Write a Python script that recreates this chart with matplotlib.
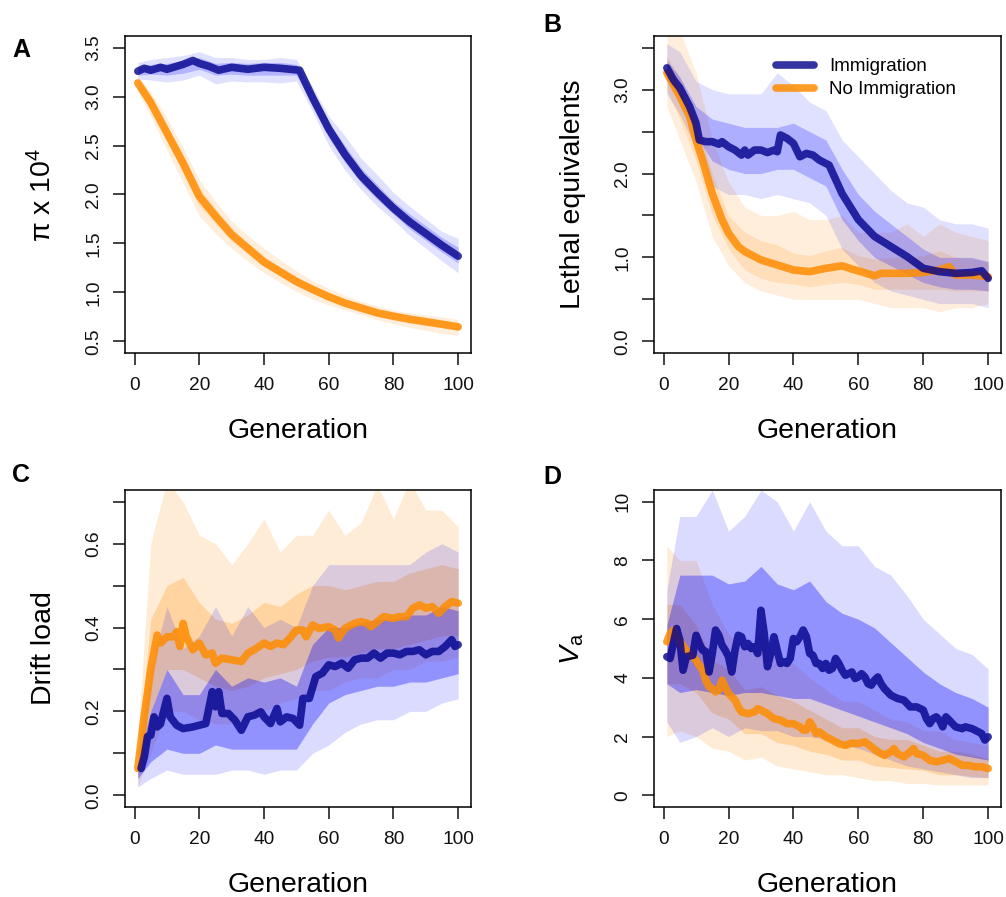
import numpy as np
import matplotlib
matplotlib.use('Agg')
import matplotlib.pyplot as plt

plt.rcParams.update({
    'font.family': ['Liberation Sans', 'DejaVu Sans'],
    'mathtext.fontset': 'custom',
    'mathtext.rm': 'Liberation Sans',
    'mathtext.it': 'Liberation Sans:italic',
    'mathtext.bf': 'Liberation Sans:bold',
})

BLUE_MEAN = '#00008b'
ORANGE_MEAN = '#ff8c00'
BLUE_THIN = '#0000ff'
ORANGE_THIN = '#ff9a20'

# generations at which the replicate spread (envelopes) was read
band_gen = [1, 5, 10, 15, 20, 25, 30, 35, 40, 45, 50, 55, 60, 65, 70, 75, 80, 85, 90, 95, 100]

# ---------------- A: pi x 10^4 ----------------
a_blue_gen = [1, 3, 5, 8, 10, 13, 15, 18, 20, 23, 26, 30, 35, 40, 45, 51, 55, 60, 65, 70, 75, 80, 85, 90, 95, 100]
a_blue = [3.26, 3.29, 3.27, 3.30, 3.28, 3.31, 3.33, 3.37, 3.34, 3.31, 3.27, 3.30, 3.28, 3.30, 3.29, 3.27,
          2.99, 2.67, 2.41, 2.19, 2.02, 1.86, 1.72, 1.60, 1.48, 1.37]
a_orange_gen = band_gen
a_orange = [3.14, 2.94, 2.63, 2.32, 1.98, 1.78, 1.59, 1.45, 1.31, 1.21, 1.11, 1.03, 0.955, 0.89, 0.84,
            0.79, 0.756, 0.725, 0.70, 0.674, 0.647]
a_blue_lo = [3.18, 3.17, 3.15, 3.17, 3.22, 3.13, 3.16, 3.15, 3.15, 3.14, 3.16, 2.85, 2.50, 2.25, 2.05,
             1.88, 1.74, 1.58, 1.45, 1.32, 1.20]
a_blue_hi = [3.35, 3.38, 3.40, 3.42, 3.46, 3.40, 3.40, 3.38, 3.38, 3.40, 3.38, 3.10, 2.80, 2.60, 2.37,
             2.20, 2.02, 1.88, 1.75, 1.62, 1.55]
a_blue_lo2 = [3.22, 3.23, 3.22, 3.24, 3.28, 3.22, 3.23, 3.22, 3.22, 3.22, 3.22, 2.92, 2.58, 2.33, 2.12,
              1.95, 1.80, 1.65, 1.53, 1.41, 1.30]
a_blue_hi2 = [3.31, 3.33, 3.34, 3.37, 3.40, 3.34, 3.35, 3.34, 3.35, 3.35, 3.33, 3.05, 2.74, 2.50, 2.27,
              2.10, 1.93, 1.80, 1.68, 1.56, 1.46]
a_orange_lo = [3.05, 2.80, 2.45, 2.12, 1.78, 1.60, 1.45, 1.32, 1.20, 1.10, 1.01, 0.93, 0.87, 0.82, 0.77,
               0.72, 0.68, 0.64, 0.61, 0.58, 0.56]
a_orange_hi = [3.20, 3.05, 2.78, 2.48, 2.15, 1.93, 1.73, 1.58, 1.45, 1.33, 1.22, 1.12, 1.04, 0.97, 0.91,
               0.86, 0.82, 0.79, 0.77, 0.75, 0.72]
a_orange_lo2 = [3.10, 2.88, 2.55, 2.22, 1.88, 1.70, 1.52, 1.39, 1.26, 1.16, 1.07, 0.99, 0.92, 0.86, 0.81,
                0.76, 0.72, 0.69, 0.66, 0.64, 0.61]
a_orange_hi2 = [3.17, 2.99, 2.70, 2.40, 2.07, 1.86, 1.66, 1.51, 1.37, 1.26, 1.16, 1.07, 0.99, 0.93, 0.87,
                0.82, 0.79, 0.76, 0.73, 0.71, 0.68]

# ---------------- B: lethal equivalents ----------------
b_blue_gen = [1, 3, 5, 8, 10, 11, 13, 15, 17, 18, 20, 22, 24, 25, 26, 28, 30, 32, 34, 35, 36, 38, 40, 42,
              44, 46, 48, 51, 55, 60, 65, 70, 75, 80, 85, 90, 95, 98, 100]
b_blue = [3.26, 3.12, 3.02, 2.80, 2.60, 2.40, 2.38, 2.38, 2.35, 2.38, 2.32, 2.28, 2.22, 2.28, 2.22, 2.28,
          2.28, 2.25, 2.28, 2.26, 2.46, 2.42, 2.36, 2.20, 2.24, 2.22, 2.16, 2.10, 1.76, 1.45, 1.25, 1.13,
          1.01, 0.87, 0.83, 0.81, 0.82, 0.84, 0.75]
b_orange_gen = [1, 5, 8, 10, 12, 15, 18, 20, 23, 25, 30, 35, 40, 45, 50, 55, 58, 60, 65, 67, 70, 75, 80,
                85, 88, 90, 95, 100]
b_orange = [3.20, 2.92, 2.68, 2.40, 2.16, 1.76, 1.45, 1.29, 1.13, 1.07, 0.97, 0.91, 0.85, 0.83, 0.87,
            0.90, 0.86, 0.84, 0.78, 0.81, 0.81, 0.81, 0.82, 0.85, 0.89, 0.79, 0.79, 0.77]
b_blue_lo = [2.95, 2.70, 2.30, 1.85, 1.75, 1.75, 1.70, 1.75, 1.70, 1.65, 1.50, 1.10, 0.90, 0.70, 0.60,
             0.55, 0.50, 0.45, 0.45, 0.45, 0.40]
b_blue_hi = [3.55, 3.45, 3.10, 3.00, 2.95, 2.95, 2.95, 3.20, 3.05, 2.85, 2.75, 2.40, 2.20, 2.00, 1.80,
             1.65, 1.60, 1.45, 1.40, 1.40, 1.35]
b_blue_lo2 = [3.15, 2.90, 2.45, 2.15, 2.05, 2.00, 2.00, 2.05, 2.05, 1.95, 1.85, 1.45, 1.20, 1.00, 0.90,
              0.80, 0.70, 0.65, 0.62, 0.62, 0.60]
b_blue_hi2 = [3.35, 3.15, 2.80, 2.65, 2.60, 2.55, 2.55, 2.55, 2.60, 2.50, 2.40, 2.05, 1.75, 1.55, 1.40,
              1.25, 1.10, 1.00, 1.00, 1.00, 0.95]
b_orange_lo = [2.80, 2.40, 1.90, 1.25, 0.90, 0.70, 0.60, 0.55, 0.50, 0.50, 0.50, 0.50, 0.50, 0.45, 0.40,
               0.40, 0.40, 0.35, 0.40, 0.40, 0.45]
b_orange_hi = [3.70, 3.70, 3.20, 2.40, 1.90, 1.60, 1.50, 1.50, 1.55, 1.45, 1.45, 1.50, 1.30, 1.30, 1.30,
               1.40, 1.25, 1.40, 1.30, 1.25, 1.20]
b_orange_lo2 = [3.00, 2.65, 2.15, 1.50, 1.10, 0.85, 0.75, 0.70, 0.68, 0.65, 0.68, 0.70, 0.68, 0.62, 0.62,
                0.62, 0.62, 0.62, 0.60, 0.60, 0.60]
b_orange_hi2 = [3.40, 3.15, 2.65, 2.00, 1.50, 1.30, 1.20, 1.15, 1.05, 1.02, 1.08, 1.12, 1.02, 0.98, 1.00,
                1.00, 1.02, 1.08, 1.00, 0.98, 0.95]

# ---------------- C: drift load ----------------
c_blue_gen = [2, 3, 4, 5, 6, 7, 8, 10, 11, 13, 15, 18, 20, 22, 24, 25, 26, 27, 29, 31, 33, 35, 37, 39, 40,
              42, 44, 45, 47, 49, 51, 52, 54, 56, 58, 60, 62, 64, 66, 68, 70, 72, 74, 76, 78, 80, 82, 84,
              86, 88, 90, 92, 94, 96, 98, 99, 100]
c_blue = [0.064, 0.092, 0.140, 0.143, 0.187, 0.163, 0.170, 0.231, 0.187, 0.167, 0.159, 0.163, 0.167, 0.171,
          0.247, 0.211, 0.247, 0.195, 0.195, 0.179, 0.155, 0.187, 0.191, 0.199, 0.187, 0.171, 0.207, 0.175,
          0.187, 0.183, 0.167, 0.231, 0.231, 0.283, 0.291, 0.311, 0.307, 0.315, 0.303, 0.323, 0.327, 0.327,
          0.339, 0.327, 0.339, 0.339, 0.335, 0.343, 0.343, 0.347, 0.335, 0.343, 0.343, 0.355, 0.371, 0.355,
          0.359]
c_orange_gen = [1, 3, 5, 7, 8, 10, 12, 13, 14, 15, 16, 18, 20, 22, 24, 25, 27, 30, 33, 35, 37, 40, 42, 44,
                46, 48, 50, 52, 53, 55, 57, 60, 62, 63, 65, 68, 70, 72, 73, 75, 77, 80, 82, 84, 86, 88, 90,
                92, 94, 96, 98, 100]
c_orange = [0.064, 0.19, 0.30, 0.382, 0.363, 0.378, 0.378, 0.390, 0.355, 0.410, 0.378, 0.347, 0.363, 0.335,
            0.339, 0.315, 0.327, 0.323, 0.319, 0.339, 0.347, 0.363, 0.355, 0.363, 0.359, 0.375, 0.394, 0.394,
            0.378, 0.406, 0.398, 0.402, 0.394, 0.375, 0.398, 0.410, 0.414, 0.410, 0.402, 0.414, 0.426, 0.422,
            0.426, 0.426, 0.446, 0.454, 0.446, 0.450, 0.434, 0.450, 0.462, 0.458]
c_blue_lo = [0.02, 0.04, 0.06, 0.05, 0.05, 0.05, 0.06, 0.06, 0.05, 0.06, 0.06, 0.10, 0.12, 0.15, 0.17,
             0.18, 0.18, 0.20, 0.20, 0.22, 0.23]
c_blue_hi = [0.10, 0.30, 0.45, 0.35, 0.38, 0.45, 0.38, 0.45, 0.40, 0.42, 0.40, 0.50, 0.55, 0.55, 0.55,
             0.55, 0.55, 0.55, 0.58, 0.60, 0.58]
c_blue_lo2 = [0.04, 0.08, 0.11, 0.10, 0.10, 0.12, 0.11, 0.11, 0.11, 0.11, 0.11, 0.17, 0.22, 0.24, 0.25,
              0.26, 0.26, 0.27, 0.27, 0.28, 0.29]
c_blue_hi2 = [0.08, 0.20, 0.30, 0.24, 0.24, 0.30, 0.26, 0.28, 0.27, 0.28, 0.26, 0.36, 0.40, 0.40, 0.41,
              0.42, 0.42, 0.43, 0.43, 0.45, 0.44]
c_orange_lo = [0.02, 0.10, 0.20, 0.20, 0.18, 0.17, 0.17, 0.18, 0.20, 0.22, 0.23, 0.25, 0.25, 0.27, 0.28,
               0.28, 0.30, 0.30, 0.32, 0.32, 0.33]
c_orange_hi = [0.14, 0.60, 0.75, 0.70, 0.62, 0.60, 0.55, 0.60, 0.66, 0.58, 0.62, 0.62, 0.68, 0.62, 0.65,
               0.74, 0.66, 0.75, 0.68, 0.68, 0.64]
c_orange_lo2 = [0.04, 0.20, 0.30, 0.30, 0.28, 0.26, 0.25, 0.26, 0.28, 0.29, 0.30, 0.32, 0.33, 0.33, 0.34,
                0.35, 0.35, 0.36, 0.37, 0.38, 0.38]
c_orange_hi2 = [0.10, 0.42, 0.50, 0.52, 0.46, 0.42, 0.41, 0.43, 0.46, 0.45, 0.48, 0.50, 0.50, 0.49, 0.50,
                0.51, 0.51, 0.53, 0.54, 0.55, 0.54]

# ---------------- D: Va ----------------
d_blue_gen = [1, 2, 3, 4, 5, 6, 7, 9, 10, 11, 12, 13, 14, 15, 16, 17, 18, 19, 20, 21, 22, 23, 24, 25, 26,
              27, 28, 29, 30, 31, 32, 33, 34, 35, 36, 37, 38, 39, 40, 41, 42, 43, 44, 45, 46, 47, 48, 49,
              50, 51, 52, 53, 54, 55, 56, 57, 58, 59, 60, 61, 62, 63, 64, 65, 66, 67, 68, 70, 72, 74, 75,
              76, 78, 80, 81, 82, 83, 84, 85, 86, 87, 88, 89, 90, 92, 93, 95, 97, 98, 99, 100]
d_blue = [4.72, 4.66, 5.17, 5.68, 5.28, 4.26, 4.72, 4.77, 5.45, 5.17, 4.94, 4.90, 4.20, 4.83, 5.63, 5.45,
          5.11, 4.94, 4.72, 4.20, 4.94, 5.45, 5.40, 5.06, 5.17, 5.00, 5.06, 4.83, 6.30, 5.51, 4.38, 4.83,
          5.40, 4.94, 4.49, 4.55, 4.49, 4.66, 5.34, 5.23, 5.40, 5.63, 5.40, 4.83, 4.77, 4.49, 4.49, 4.32,
          4.49, 4.26, 4.32, 4.66, 4.49, 4.26, 4.09, 4.14, 4.20, 3.98, 4.03, 4.14, 4.03, 3.80, 3.75, 3.92,
          4.03, 3.80, 3.64, 3.41, 3.30, 3.24, 3.13, 3.01, 3.01, 2.90, 2.61, 2.44, 2.61, 2.67, 2.56, 2.33,
          2.67, 2.56, 2.44, 2.33, 2.27, 2.33, 2.27, 2.16, 2.10, 1.88, 1.99]
d_orange_gen = [1, 2, 3, 5, 7, 10, 12, 13, 14, 15, 16, 17, 18, 19, 20, 22, 23, 24, 26, 28, 29, 30, 32, 34,
                36, 38, 40, 42, 43, 44, 45, 46, 47, 48, 50, 52, 54, 56, 58, 60, 62, 64, 66, 68, 70, 71, 72,
                74, 76, 77, 78, 80, 82, 84, 86, 88, 90, 92, 94, 96, 98, 100]
d_orange = [5.23, 5.51, 5.63, 5.23, 4.94, 4.60, 4.26, 3.92, 3.69, 3.64, 3.52, 3.58, 3.92, 3.69, 3.47, 3.24,
            3.01, 2.84, 2.78, 2.84, 2.95, 2.90, 2.78, 2.61, 2.56, 2.44, 2.44, 2.33, 2.22, 2.22, 2.50, 2.33,
            2.10, 2.16, 1.99, 1.88, 1.76, 1.70, 1.78, 1.76, 1.82, 1.65, 1.48, 1.36, 1.48, 1.59, 1.42, 1.31,
            1.48, 1.59, 1.42, 1.36, 1.19, 1.14, 1.19, 1.25, 1.14, 1.02, 1.02, 0.97, 0.97, 0.91]
d_blue_lo = [2.5, 1.8, 2.0, 2.3, 2.0, 2.3, 2.2, 2.2, 2.0, 2.0, 1.9, 1.7, 1.6, 1.4, 1.2, 1.0, 0.9, 0.8, 0.7,
             0.6, 0.6]
d_blue_hi = [7.0, 9.5, 9.5, 10.4, 9.0, 9.5, 10.4, 10.0, 9.0, 10.0, 9.0, 8.5, 8.5, 7.8, 7.5, 6.8, 6.0, 5.5,
             5.0, 4.8, 4.3]
d_blue_lo2 = [3.8, 3.5, 3.6, 3.5, 3.4, 3.5, 3.5, 3.4, 3.3, 3.3, 3.1, 2.9, 2.7, 2.5, 2.3, 2.1, 1.8, 1.6, 1.4,
              1.3, 1.2]
d_blue_hi2 = [5.8, 7.5, 7.5, 7.5, 7.2, 7.3, 7.8, 7.2, 7.0, 7.3, 6.6, 6.2, 6.0, 5.7, 5.2, 4.7, 4.2, 3.8, 3.5,
              3.3, 3.0]
d_orange_lo = [2.0, 2.2, 2.0, 1.6, 1.5, 1.2, 1.3, 1.0, 0.9, 0.8, 0.7, 0.7, 0.6, 0.5, 0.5, 0.4, 0.4, 0.35,
               0.35, 0.35, 0.35]
d_orange_hi = [8.5, 8.0, 8.0, 6.5, 5.5, 5.0, 5.5, 4.6, 4.5, 4.0, 3.6, 3.2, 3.2, 2.9, 2.6, 2.5, 2.2, 2.2,
               1.9, 1.8, 1.7]
d_orange_lo2 = [3.8, 3.8, 3.5, 2.8, 2.6, 2.1, 2.1, 1.8, 1.7, 1.5, 1.4, 1.2, 1.2, 1.0, 0.95, 0.9, 0.85, 0.7,
                0.7, 0.65, 0.6]
d_orange_hi2 = [6.5, 6.5, 5.8, 4.6, 4.3, 3.6, 3.7, 3.4, 3.2, 2.9, 2.6, 2.3, 2.3, 2.0, 1.9, 1.9, 1.7, 1.5,
                1.5, 1.4, 1.25]

x_ticks = [0, 20, 40, 60, 80, 100]


def style_axes(ax, ylim, yticks, ylabels, ylabel):
    ax.set_xlim(-2.96, 103.96)
    ax.set_ylim(*ylim)
    ax.set_xticks(x_ticks)
    ax.set_xticklabels([str(t) for t in x_ticks])
    ax.set_yticks(yticks)
    ax.set_yticklabels(ylabels, rotation=90, va='center')
    ax.tick_params(direction='out', length=8.4, width=1.1, labelsize=13.8, colors='#111111')
    ax.tick_params(axis='x', pad=9)
    ax.tick_params(axis='y', pad=8)
    for sp in ax.spines.values():
        sp.set_linewidth(1.1)
    ax.set_xlabel('Generation', fontsize=20.5, labelpad=17)
    ax.set_ylabel(ylabel, fontsize=20.5, labelpad=20)


fig = plt.figure(figsize=(10.06, 8.97), dpi=100)
W, H = 1006, 897
pos = {
    'A': [125 / W, 1 - 353 / H, 346 / W, 317 / H],
    'B': [654 / W, 1 - 353 / H, 347 / W, 317 / H],
    'C': [125 / W, 1 - 807 / H, 346 / W, 317 / H],
    'D': [654 / W, 1 - 807 / H, 347 / W, 317 / H],
}
# panel letter centres (pixels from top-left)
letter_xy = {'A': (21, 50), 'B': (552, 25), 'C': (21, 475), 'D': (552, 477)}

panels = {
    'A': dict(bg=a_blue_gen, b=a_blue, og=a_orange_gen, o=a_orange,
              bl=(a_blue_lo, a_blue_hi, a_blue_lo2, a_blue_hi2),
              ol=(a_orange_lo, a_orange_hi, a_orange_lo2, a_orange_hi2),
              ylim=(0.38, 3.62), yt=[0.5, 1.0, 1.5, 2.0, 2.5, 3.0, 3.5],
              yl=['0.5', '1.0', '1.5', '2.0', '2.5', '3.0', '3.5'],
              ylab=r'π x 10$^{4}$', alpha=(0.12, 0.20)),
    'B': dict(bg=b_blue_gen, b=b_blue, og=b_orange_gen, o=b_orange,
              bl=(b_blue_lo, b_blue_hi, b_blue_lo2, b_blue_hi2),
              ol=(b_orange_lo, b_orange_hi, b_orange_lo2, b_orange_hi2),
              ylim=(-0.14, 3.64), yt=[0, 0.5, 1.0, 1.5, 2.0, 2.5, 3.0, 3.5],
              yl=['0.0', '', '1.0', '', '2.0', '', '3.0', ''],
              ylab='Lethal equivalents', alpha=(0.12, 0.22)),
    'C': dict(bg=c_blue_gen, b=c_blue, og=c_orange_gen, o=c_orange,
              bl=(c_blue_lo, c_blue_hi, c_blue_lo2, c_blue_hi2),
              ol=(c_orange_lo, c_orange_hi, c_orange_lo2, c_orange_hi2),
              ylim=(-0.028, 0.728), yt=[0, 0.1, 0.2, 0.3, 0.4, 0.5, 0.6, 0.7],
              yl=['0.0', '', '0.2', '', '0.4', '', '0.6', ''],
              ylab='Drift load', alpha=(0.14, 0.33)),
    'D': dict(bg=d_blue_gen, b=d_blue, og=d_orange_gen, o=d_orange,
              bl=(d_blue_lo, d_blue_hi, d_blue_lo2, d_blue_hi2),
              ol=(d_orange_lo, d_orange_hi, d_orange_lo2, d_orange_hi2),
              ylim=(-0.4, 10.4), yt=[0, 2, 4, 6, 8, 10],
              yl=['0', '2', '4', '6', '8', '10'],
              ylab=r'$\mathit{V}_{\mathrm{a}}$', alpha=(0.14, 0.33)),
}

for key, p in panels.items():
    ax = fig.add_axes(pos[key])
    a_out, a_in = p['alpha']
    # replicate spread: orange first, blue over it
    ax.fill_between(band_gen, p['ol'][0], p['ol'][1], color=ORANGE_THIN, alpha=a_out + 0.04, lw=0)
    ax.fill_between(band_gen, p['ol'][2], p['ol'][3], color=ORANGE_THIN, alpha=a_in - 0.04, lw=0)
    ax.fill_between(band_gen, p['bl'][0], p['bl'][1], color=BLUE_THIN, alpha=a_out, lw=0)
    ax.fill_between(band_gen, p['bl'][2], p['bl'][3], color=BLUE_THIN, alpha=a_in, lw=0)
    # means
    ax.plot(p['og'], p['o'], color=ORANGE_MEAN, lw=5.5, alpha=0.85, solid_capstyle='round',
            solid_joinstyle='round', label='No Immigration')
    ax.plot(p['bg'], p['b'], color=BLUE_MEAN, lw=5.5, alpha=0.8, solid_capstyle='round',
            solid_joinstyle='round', label='Immigration')
    style_axes(ax, p['ylim'], p['yt'], p['yl'], p['ylab'])
    lx, ly = letter_xy[key]
    fig.text(lx / W, 1 - ly / H, key, fontsize=18, fontweight='bold', ha='center', va='center')
    if key == 'B':
        h, l = ax.get_legend_handles_labels()
        ax.legend(h[::-1], l[::-1], loc='upper left', bbox_to_anchor=(0.353, 0.93), frameon=False,
                  fontsize=13.5, handlelength=2.0, handletextpad=0.8, labelspacing=0.3,
                  borderpad=0, borderaxespad=0)

fig.savefig('out.png', dpi=100)
